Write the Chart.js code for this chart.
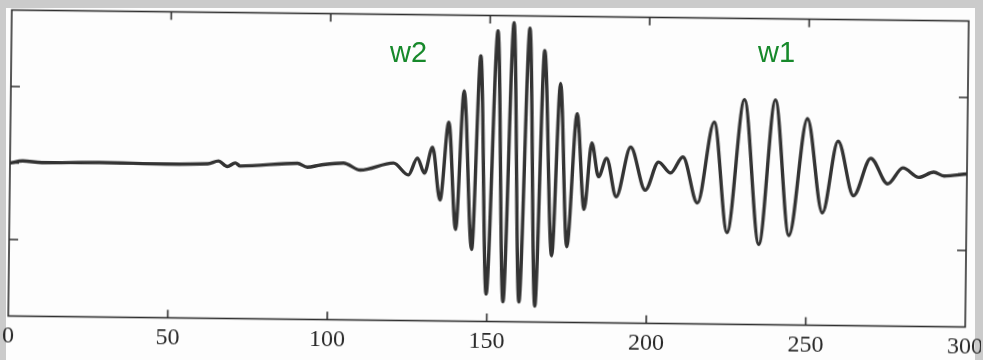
<!DOCTYPE html>
<html>
<head>
<meta charset="utf-8">
<script src="https://cdn.jsdelivr.net/npm/chart.js@4.4.1/dist/chart.umd.min.js"></script>
<style>
  html, body { margin: 0; padding: 0; }
  body { width: 983px; height: 360px; background: #cbcbcb; position: relative; overflow: hidden; }
  #paper { position: absolute; left: 6px; top: 8px; width: 969px; height: 352px; background: #fdfdfd; }
  #wrap { position: absolute; left: 0; top: 0; width: 983px; height: 360px;
          transform: rotate(0.66deg); transform-origin: 488px 168.5px; }
  .tag { position: absolute; font-family: "Liberation Sans", Arial, sans-serif; font-size: 29px;
         line-height: 29px; color: #17892b; }
</style>
</head>
<body>
<div id="paper"></div>
<div id="wrap"><canvas id="wave" width="983" height="360"></canvas></div>
<div class="tag" style="left:390px; top:38px;">w2</div>
<div class="tag" style="left:758px; top:38px;">w1</div>
<script>
// sample positions and amplitudes (peaks and troughs)
const sampleX = [0, 4, 10, 28, 49, 62, 65.3, 68.1, 70.6, 72.2, 90.1, 93.2, 97.3, 104.5, 109.8,
  120.2, 124.9, 127.7, 129.9, 132.4, 134.9, 137.4, 139.9, 142.1, 145.0, 147.2, 149.7,
  152.5, 155.0, 157.5, 160.0, 162.5, 165.0, 167.2, 170.1, 172.3, 174.8, 177.6, 180.1,
  182.3, 184.5, 187.0, 190.1, 194.5, 199.2, 203.3, 207.1, 210.9, 215.6, 220.6, 225.0,
  230.0, 235.0, 239.7, 244.4, 249.8, 254.8, 259.5, 264.5, 269.8, 275.2, 279.9, 284.9,
  289.6, 292.8, 300];
const amplitude = [0, 0.03, 0.01, 0.02, 0.01, 0.02, 0.057, -0.014, 0.034, -0.005, 0.04, -0.01, 0.02, 0.05, -0.04,
  0.057, -0.096, 0.126, -0.07, 0.27, -0.42, 0.60, -0.80, 1.01, -1.06, 1.47, -1.64,
  1.80, -1.74, 1.91, -1.74, 1.84, -1.79, 1.55, -1.13, 1.12, -1.01, 0.73, -0.52,
  0.35, -0.09, 0.15, -0.35, 0.30, -0.26, 0.11, -0.03, 0.18, -0.42, 0.64, -0.80,
  0.94, -0.95, 0.94, -0.83, 0.70, -0.53, 0.41, -0.30, 0.19, -0.14, 0.07, -0.05,
  0.02, -0.03, 0];

const xTickValues = [0, 50, 100, 150, 200, 250, 300];
const yTickValues = [-2, -1, 0, 1, 2];

const points = sampleX.map((x, i) => ({ x: x, y: amplitude[i] }));

// frame with inward ticks on all four sides
const frameTicks = {
  id: 'frameTicks',
  afterDatasetsDraw(chart) {
    const { ctx, chartArea: a, scales } = chart;
    ctx.save();
    ctx.strokeStyle = '#2f2f2f';
    ctx.lineWidth = 1.6;
    ctx.strokeRect(a.left, a.top, a.right - a.left, a.bottom - a.top);
    ctx.beginPath();
    scales.x.ticks.forEach(t => {
      if (t.value <= scales.x.min || t.value >= scales.x.max) return;
      const px = scales.x.getPixelForValue(t.value);
      ctx.moveTo(px, a.bottom); ctx.lineTo(px, a.bottom - 8);
      ctx.moveTo(px, a.top); ctx.lineTo(px, a.top + 8);
    });
    scales.y.ticks.forEach(t => {
      if (t.value <= scales.y.min || t.value >= scales.y.max) return;
      const py = scales.y.getPixelForValue(t.value);
      ctx.moveTo(a.left, py); ctx.lineTo(a.left + 9, py);
      ctx.moveTo(a.right, py); ctx.lineTo(a.right - 9, py);
    });
    ctx.stroke();
    ctx.restore();
  }
};

new Chart(document.getElementById('wave').getContext('2d'), {
  type: 'line',
  data: {
    datasets: [{
      data: points,
      borderColor: '#333333',
      borderWidth: 3.4,
      pointRadius: 0,
      cubicInterpolationMode: 'monotone',
      fill: false
    }]
  },
  options: {
    responsive: false,
    animation: false,
    layout: { padding: { left: 10, right: 14, top: 15.5, bottom: 0 } },
    plugins: { legend: { display: false }, tooltip: { enabled: false } },
    scales: {
      x: {
        type: 'linear',
        min: 0,
        max: 300,
        afterBuildTicks: s => { s.ticks = xTickValues.map(v => ({ value: v })); },
        afterFit: s => { s.height = 38.5; },
        grid: { display: false },
        border: { display: false },
        ticks: {
          padding: -2,
          maxRotation: 0,
          color: '#2a2a2a',
          font: { family: '"Liberation Serif", "Times New Roman", serif', size: 24 }
        }
      },
      y: {
        min: -2,
        max: 2,
        afterBuildTicks: s => { s.ticks = yTickValues.map(v => ({ value: v })); },
        afterFit: s => { s.width = 0; },
        grid: { display: false },
        border: { display: false },
        ticks: { display: false }
      }
    }
  },
  plugins: [frameTicks]
});
</script>
</body>
</html>
